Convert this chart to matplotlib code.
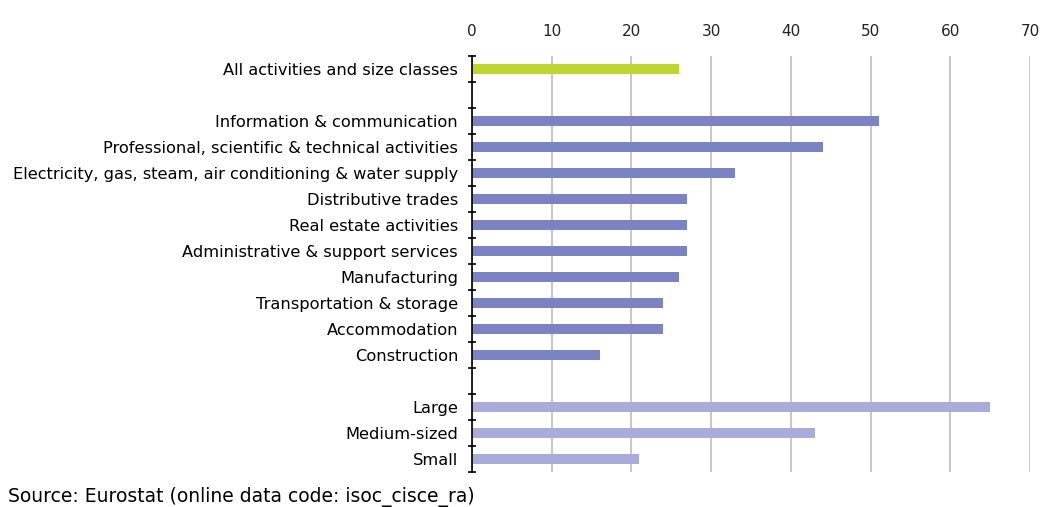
import numpy as np
import matplotlib.pyplot as plt

plt.rcParams['font.family'] = ['DejaVu Sans']

labels = ['All activities and size classes', '',
          'Information & communication',
          'Professional, scientific & technical activities',
          'Electricity, gas, steam, air conditioning & water supply',
          'Distributive trades', 'Real estate activities',
          'Administrative & support services', 'Manufacturing',
          'Transportation & storage', 'Accommodation', 'Construction', '',
          'Large', 'Medium-sized', 'Small']
values = [26, np.nan, 51, 44, 33, 27, 27, 27, 26, 24, 24, 16, np.nan, 65, 43, 21]
groups = ['total', None] + ['activity'] * 10 + [None] + ['size'] * 3
colours = {'total': '#bed62f', 'activity': '#7b83c2', 'size': '#a9acda', None: 'white'}
xticks = [0, 10, 20, 30, 40, 50, 60, 70]

fig = plt.figure(figsize=(10.43, 5.07), dpi=100)
ax = fig.add_axes([0.4525, 0.069, 0.535, 0.8205])

y = np.arange(len(labels))
vals = np.nan_to_num(np.array(values, dtype=float))
ax.barh(y, vals, height=0.37, color=[colours[g] for g in groups], zorder=3)

ax.set_ylim(len(labels) - 0.5, -0.5)
ax.set_xlim(0, 70)
ax.set_xticks(xticks)
ax.xaxis.tick_top()
ax.tick_params(axis='x', length=0, pad=12, labelsize=11, colors='#222222')
ax.set_yticks(y)
ax.set_yticklabels(labels, fontsize=11.7)
ax.tick_params(axis='y', length=0, pad=10)
ax.set_yticks(np.arange(-0.5, len(labels)), minor=True)
ax.tick_params(axis='y', which='minor', length=6, direction='inout', width=1.2)
ax.grid(axis='x', color='#c8c8c8', linewidth=1.5, zorder=0)
for s in ['top', 'right', 'bottom']:
    ax.spines[s].set_visible(False)
ax.spines['left'].set_linewidth(1.2)
ax.spines['left'].set_zorder(4)

fig.text(0.008, 0.01, 'Source: Eurostat (online data code: isoc_cisce_ra)', fontsize=13.5)

fig.savefig('out.png', dpi=100)
